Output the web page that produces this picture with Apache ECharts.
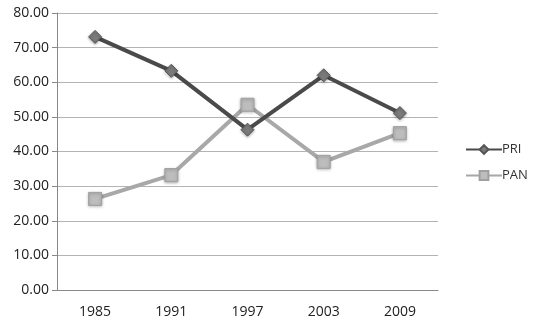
<!DOCTYPE html>
<html><head><meta charset="utf-8">
<script src="https://cdn.jsdelivr.net/npm/echarts@6/dist/echarts.min.js"></script>
<style>html,body{margin:0;padding:0;background:#fff}#c{width:536px;height:332px}</style>
</head><body><div id="c"></div>
<script>
const categories = ['1985','1991','1997','2003','2009'];
const pri = [73.1, 63.3, 46.3, 62.0, 51.1];
const pan = [26.3, 33.2, 53.5, 37.0, 45.3];
const yTicks = {min: 0, max: 80, interval: 10};

const chart = echarts.init(document.getElementById('c'));
chart.setOption({
  animation: false,
  backgroundColor: '#fff',
  textStyle: {fontFamily: 'Open Sans'},
  grid: {left: 57, right: 98, top: 13, bottom: 42},
  legend: {
    orient: 'vertical', left: 460, top: 138, itemGap: 13,
    itemWidth: 36, itemHeight: 11,
    textStyle: {fontSize: 13, color: '#333', padding: [0,0,0,-5]},
    data: ['PRI','PAN']
  },
  xAxis: {
    type: 'category', data: categories, boundaryGap: true,
    axisLine: {lineStyle: {color: '#888'}},
    axisTick: {lineStyle: {color: '#888'}, length: 5},
    axisLabel: {color: '#222', fontSize: 14, margin: 15}
  },
  yAxis: {
    type: 'value', min: yTicks.min, max: yTicks.max, interval: yTicks.interval,
    axisLine: {show: true, lineStyle: {color: '#888'}},
    axisTick: {show: true, lineStyle: {color: '#888'}, length: 5},
    splitLine: {lineStyle: {color: '#b3b3b3'}},
    axisLabel: {color: '#222', fontSize: 14, margin: 8, formatter: v => v.toFixed(2)}
  },
  series: [
    {name: 'PRI', type: 'line', data: pri, symbol: 'diamond', symbolSize: 13,
     lineStyle: {color: '#4a4a4a', width: 4},
     itemStyle: {color: '#7a7a7a', borderColor: '#555', borderWidth: 1, shadowColor: 'rgba(0,0,0,0.3)', shadowBlur: 3, shadowOffsetY: 1},
     z: 3},
    {name: 'PAN', type: 'line', data: pan, symbol: 'rect', symbolSize: 13,
     lineStyle: {color: '#a8a8a8', width: 4},
     itemStyle: {color: '#bdbdbd', borderColor: '#a0a0a0', borderWidth: 1, shadowColor: 'rgba(0,0,0,0.3)', shadowBlur: 3, shadowOffsetY: 1},
     z: 2}
  ]
});
</script></body></html>
